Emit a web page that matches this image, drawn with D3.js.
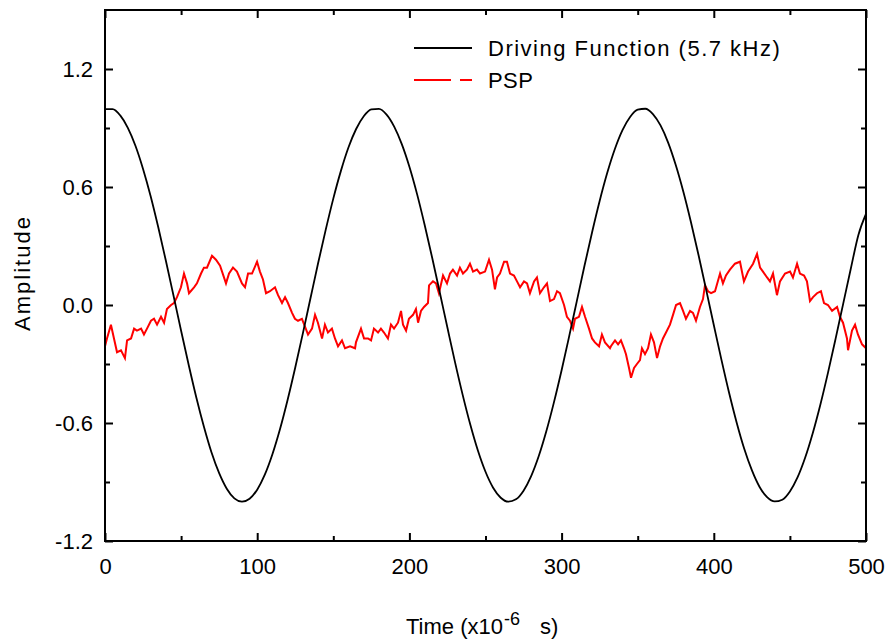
<!DOCTYPE html>
<html>
<head>
<meta charset="utf-8">
<script src="https://cdn.jsdelivr.net/npm/d3@7"></script>
<style>
  html, body { margin: 0; padding: 0; background: #fff; }
  svg { display: block; font-family: "Liberation Sans", Arial, sans-serif; }
</style>
</head>
<body>
<svg id="chart" width="888" height="639"></svg>
<script>
// ---------- DATA ----------
const xTicks = [0, 100, 200, 300, 400, 500];
const yTicks = [-1.2, -0.6, 0.0, 0.6, 1.2];
const yTickLabels = ["-1.2", "-0.6", "0.0", "0.6", "1.2"];
const seriesNames = ["Driving Function (5.7 kHz)", "PSP"];

// Driving function, sampled every 5 µs (0..500)
const driveTime = d3.range(0, 501, 5);
const driveValues = [
  0.996, 0.996, 0.964, 0.901, 0.810, 0.692, 0.553, 0.395, 0.225, 0.048,
  -0.131, -0.305, -0.470, -0.619, -0.750, -0.855, -0.934, -0.983, -1.000, -0.985,
  -0.939, -0.863, -0.759, -0.631, -0.482, -0.318, -0.144, 0.034, 0.212, 0.382,
  0.541, 0.682, 0.802, 0.895, 0.960, 0.995, 0.997, 0.968, 0.907, 0.818,
  0.703, 0.565, 0.408, 0.239, 0.062, -0.116, -0.292, -0.457, -0.608, -0.740,
  -0.848, -0.929, -0.980, -1.000, -0.988, -0.944, -0.870, -0.768, -0.641, -0.494,
  -0.332, -0.158, 0.020, 0.198, 0.369, 0.529, 0.672, 0.793, 0.889, 0.956,
  0.993, 0.998, 0.971, 0.913, 0.826, 0.712, 0.576, 0.421, 0.253, 0.077,
  -0.102, -0.278, -0.445, -0.597, -0.731, -0.840, -0.924, -0.977, -0.999, -0.990,
  -0.948, -0.877, -0.777, -0.652, -0.507, -0.345, -0.172, 0.006, 0.184, 0.356,
  0.463
];

// PSP trace (time µs, amplitude)
const pspTime = [
  0, 1.3, 3.9, 5.9, 7.9, 10.5, 13.1, 14.5, 17.1, 19.1, 21.0, 23.7, 25.6, 27.6, 30.2, 32.2, 34.2, 36.8, 38.8, 40.7,
  43.4, 45.3, 47.3, 49.9, 51.9, 53.9, 55.2, 58.5, 60.4, 63.1, 65.0, 67.0, 70.3, 72.9, 75.6, 79.5, 81.5, 84.1, 86.7, 90.0,
  92.0, 94.0, 96.6, 99.9, 101.8, 103.8, 105.8, 108.4, 111.7, 113.7, 116.3, 118.3, 120.2, 122.9, 124.8, 126.8, 129.4, 131.4, 133.4, 136.0,
  138.0, 139.9, 142.6, 144.5, 146.5, 149.1, 151.1, 153.1, 155.7, 157.7, 161.0, 164.3, 164.9, 168.2, 170.2, 172.8, 174.8, 176.7, 179.4, 181.3,
  183.3, 185.9, 187.9, 189.9, 192.5, 194.5, 195.8, 197.8, 199.7, 202.4, 204.3, 205.7, 207.6, 209.6, 212.2, 212.9, 215.5, 217.5, 219.4, 222.1,
  224.7, 226.7, 228.6, 231.3, 233.2, 235.2, 237.8, 239.8, 241.8, 244.4, 246.4, 249.7, 252.3, 254.3, 256.2, 257.6, 259.5, 262.2, 264.1, 266.1,
  268.7, 270.7, 272.7, 275.3, 277.3, 279.2, 281.9, 283.8, 285.8, 288.4, 290.4, 292.4, 295.0, 297.0, 298.9, 301.6, 303.5, 305.5, 307.5, 308.8,
  311.4, 313.4, 315.4, 318.0, 320.0, 321.9, 324.6, 326.5, 328.5, 331.8, 332.4, 335.1, 337.1, 339.0, 341.0, 342.3, 344.3, 345.6, 347.6, 349.5,
  351.5, 352.8, 354.8, 356.8, 358.7, 360.7, 362.7, 364.7, 366.6, 368.6, 371.2, 373.2, 375.2, 377.8, 379.8, 381.7, 384.4, 386.3, 388.3, 390.9,
  392.9, 394.2, 396.2, 398.2, 400.8, 404.1, 406.0, 408.0, 410.6, 413.9, 417.2, 419.8, 422.5, 425.8, 428.4, 430.4, 432.3, 435.0, 436.9, 438.9,
  441.5, 443.5, 446.8, 450.1, 452.0, 454.7, 456.6, 459.3, 461.2, 463.2, 465.2, 467.8, 470.4, 472.4, 475.0, 477.7, 481.0, 482.9, 484.9, 487.5,
  488.2, 490.8, 492.8, 494.7, 497.4, 500.0
];
const pspValues = [
  -0.21, -0.17, -0.10, -0.17, -0.24, -0.23, -0.27, -0.18, -0.17, -0.12, -0.13, -0.12, -0.15, -0.12, -0.08, -0.07, -0.10, -0.06, -0.09, -0.02,
  0.00, 0.01, 0.04, 0.09, 0.16, 0.11, 0.06, 0.09, 0.11, 0.16, 0.19, 0.19, 0.25, 0.23, 0.20, 0.11, 0.16, 0.19, 0.17, 0.11,
  0.09, 0.16, 0.16, 0.22, 0.17, 0.13, 0.06, 0.07, 0.09, 0.05, 0.01, 0.04, 0.01, -0.04, -0.07, -0.08, -0.07, -0.11, -0.15, -0.12,
  -0.05, -0.09, -0.17, -0.10, -0.14, -0.12, -0.17, -0.21, -0.18, -0.22, -0.21, -0.22, -0.19, -0.12, -0.17, -0.17, -0.18, -0.12, -0.14, -0.12,
  -0.14, -0.17, -0.10, -0.12, -0.09, -0.03, -0.10, -0.13, -0.07, -0.05, -0.02, -0.09, -0.03, -0.01, 0.01, 0.10, 0.12, 0.11, 0.06, 0.15,
  0.11, 0.16, 0.18, 0.15, 0.19, 0.16, 0.18, 0.21, 0.17, 0.18, 0.16, 0.17, 0.23, 0.18, 0.08, 0.14, 0.16, 0.22, 0.22, 0.16,
  0.15, 0.12, 0.09, 0.12, 0.11, 0.06, 0.12, 0.14, 0.06, 0.09, 0.11, 0.02, 0.03, 0.07, 0.06, 0.00, -0.06, -0.08, -0.12, -0.07,
  -0.06, -0.01, -0.06, -0.12, -0.17, -0.19, -0.21, -0.15, -0.19, -0.22, -0.21, -0.18, -0.20, -0.18, -0.22, -0.25, -0.32, -0.37, -0.32, -0.30,
  -0.28, -0.22, -0.25, -0.22, -0.15, -0.19, -0.27, -0.21, -0.17, -0.14, -0.10, -0.05, 0.00, 0.01, -0.03, -0.07, -0.03, -0.04, -0.08, -0.01,
  0.03, 0.10, 0.07, 0.06, 0.07, 0.16, 0.11, 0.15, 0.18, 0.21, 0.22, 0.12, 0.17, 0.21, 0.26, 0.19, 0.17, 0.14, 0.12, 0.16,
  0.05, 0.12, 0.16, 0.17, 0.14, 0.21, 0.16, 0.15, 0.12, 0.02, 0.04, 0.06, 0.07, 0.01, 0.00, -0.03, -0.01, -0.06, -0.09, -0.17,
  -0.23, -0.13, -0.10, -0.15, -0.20, -0.22
];

// ---------- LAYOUT ----------
const svg = d3.select("#chart");
const W = 888, H = 639;
const plot = { left: 105, right: 866, top: 10, bottom: 541 };

svg.append("rect").attr("width", W).attr("height", H).attr("fill", "#fff");

const x = d3.scaleLinear().domain([0, 500]).range([plot.left, plot.right]);
const y = d3.scaleLinear().domain([-1.2, 1.5]).range([plot.bottom, plot.top]);

const fontSize = 22;

svg.append("clipPath").attr("id", "clip").append("rect")
  .attr("x", plot.left).attr("y", plot.top)
  .attr("width", plot.right - plot.left).attr("height", plot.bottom - plot.top);

// ---------- SERIES ----------
const g = svg.append("g").attr("clip-path", "url(#clip)");

const driveData = driveTime.map((t, i) => [t, driveValues[i]]);
const pspData = pspTime.map((t, i) => [t, pspValues[i]]);

g.append("path")
  .datum(pspData)
  .attr("fill", "none")
  .attr("stroke", "#ff0000")
  .attr("stroke-width", 2)
  .attr("stroke-linejoin", "miter")
  .attr("d", d3.line().x(d => x(d[0])).y(d => y(d[1])));

g.append("path")
  .datum(driveData)
  .attr("fill", "none")
  .attr("stroke", "#000")
  .attr("stroke-width", 1.8)
  .attr("d", d3.line().x(d => x(d[0])).y(d => y(d[1])).curve(d3.curveMonotoneX));

// ---------- AXES ----------
const majorLen = 8, minorLen = 5;
const xMinor = d3.range(50, 500, 100);
const yMinor = [-0.9, -0.3, 0.3, 0.9];

function styleAxis(sel) {
  sel.select(".domain").remove();
  sel.selectAll(".tick line").attr("stroke", "#000").attr("stroke-width", 2);
  sel.selectAll(".tick text").attr("fill", "#000").style("font-size", fontSize + "px")
    .style("font-family", "'Liberation Sans', Arial, sans-serif");
}

svg.append("g").attr("transform", `translate(0,${plot.bottom})`)
  .call(d3.axisBottom(x).tickValues(xTicks).tickFormat(d3.format("d")).tickSizeInner(-majorLen).tickPadding(17))
  .call(styleAxis);
svg.append("g").attr("transform", `translate(0,${plot.bottom})`)
  .call(d3.axisBottom(x).tickValues(xMinor).tickFormat("").tickSizeInner(-minorLen))
  .call(styleAxis);
svg.append("g").attr("transform", `translate(0,${plot.top})`)
  .call(d3.axisTop(x).tickValues(xTicks).tickFormat("").tickSizeInner(-majorLen))
  .call(styleAxis);
svg.append("g").attr("transform", `translate(0,${plot.top})`)
  .call(d3.axisTop(x).tickValues(xMinor).tickFormat("").tickSizeInner(-minorLen))
  .call(styleAxis);
svg.append("g").attr("transform", `translate(${plot.left},0)`)
  .call(d3.axisLeft(y).tickValues(yTicks).tickFormat((d, i) => yTickLabels[i]).tickSizeInner(-majorLen).tickPadding(12))
  .call(styleAxis);
svg.append("g").attr("transform", `translate(${plot.left},0)`)
  .call(d3.axisLeft(y).tickValues(yMinor).tickFormat("").tickSizeInner(-minorLen))
  .call(styleAxis);
svg.append("g").attr("transform", `translate(${plot.right},0)`)
  .call(d3.axisRight(y).tickValues(yTicks).tickFormat("").tickSizeInner(-majorLen))
  .call(styleAxis);
svg.append("g").attr("transform", `translate(${plot.right},0)`)
  .call(d3.axisRight(y).tickValues(yMinor).tickFormat("").tickSizeInner(-minorLen))
  .call(styleAxis);

svg.append("rect")
  .attr("x", plot.left).attr("y", plot.top)
  .attr("width", plot.right - plot.left).attr("height", plot.bottom - plot.top)
  .attr("fill", "none").attr("stroke", "#000").attr("stroke-width", 2);

// ---------- TITLES ----------
const xt = svg.append("text")
  .attr("x", 406).attr("y", 634)
  .attr("text-anchor", "start")
  .style("font-size", fontSize + "px").attr("fill", "#000");
xt.append("tspan").text("Time (x10");
xt.append("tspan").attr("dy", -9).attr("dx", 1).style("font-size", "18px").text("-6");
xt.append("tspan").attr("dy", 9).attr("x", 540).text("s)");

svg.append("text")
  .attr("transform", `translate(30,${273}) rotate(-90)`)
  .attr("text-anchor", "middle")
  .attr("letter-spacing", "2px")
  .style("font-size", fontSize + "px").attr("fill", "#000")
  .text("Amplitude");

// ---------- LEGEND ----------
const leg = svg.append("g");
const legendY = [48, 80];
leg.append("line").attr("x1", 414).attr("x2", 472).attr("y1", legendY[0]).attr("y2", legendY[0])
  .attr("stroke", "#000").attr("stroke-width", 1.8);
leg.append("line").attr("x1", 414).attr("x2", 472).attr("y1", legendY[1]).attr("y2", legendY[1])
  .attr("stroke", "#ff0000").attr("stroke-width", 1.8).attr("stroke-dasharray", "37 9 12");
seriesNames.forEach((n, i) => {
  leg.append("text").attr("x", 488).attr("y", legendY[i] + 8)
    .attr("letter-spacing", i === 0 ? "1.5px" : "0.4px")
    .style("font-size", fontSize + "px").attr("fill", "#000").text(n);
});
</script>
</body>
</html>
